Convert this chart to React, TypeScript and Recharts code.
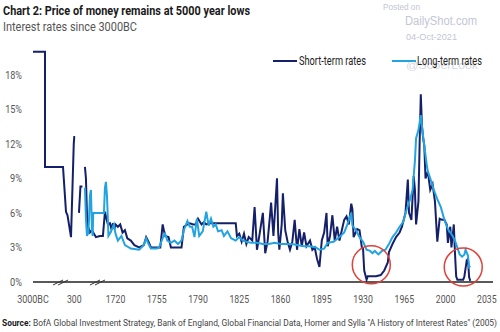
import { LineChart, Line, XAxis, YAxis, ReferenceDot } from 'recharts';

// broken x axis: 3000BC..300, 300..1720, then 35 years per tick
const xTickLabels = ['3000BC', '300', '1720', '1755', '1790', '1825', '1860', '1895', '1930', '1965', '2000', '2035'];
const yTicks = [0, 3, 6, 9, 12, 15, 18];

const shortYears = [
  -3000, -2040, -2040, -600, -360, -240, 40, 260, 300, 330, 400,
  462, 513, 582, 620,
  668, 702, 754, 806, 840, 909, 978, 1046, 1184, 1287, 1356, 1408, 1459, 1528, 1580, 1631, 1682,
  1720, 1722, 1724, 1726, 1728, 1730, 1733, 1736, 1740, 1744, 1746, 1748, 1750, 1755, 1758, 1760, 1762, 1765, 1767,
  1772, 1776, 1778, 1781, 1783, 1786, 1788, 1790, 1793, 1795, 1797, 1800, 1805, 1810, 1815, 1822, 1823,
  1825, 1827, 1829, 1831, 1833, 1836, 1838, 1840, 1842, 1845, 1847, 1849, 1851, 1852, 1854, 1857, 1858, 1859,
  1861, 1862, 1864, 1866, 1868, 1870, 1872, 1874, 1876, 1878, 1880, 1882, 1885, 1887, 1889, 1891, 1893, 1895,
  1897, 1899, 1900, 1902, 1904, 1906, 1908, 1910, 1912, 1914, 1916, 1918, 1920, 1921, 1922, 1925, 1927, 1929,
  1930, 1931, 1933, 1934, 1941, 1945, 1948, 1951, 1952, 1955, 1958, 1961, 1963, 1966, 1968, 1969, 1971, 1973,
  1974, 1975, 1977, 1978, 1979, 1980, 1981, 1982, 1983, 1985, 1987, 1989, 1991, 1993, 1995, 1997, 1999, 2001,
  2002, 2004, 2005, 2007, 2008, 2009, 2010, 2015, 2016, 2017, 2018, 2019, 2020, 2021,
];
const shortRates: (number | null)[] = [
  20, 20, 10, 10, 6.1, 5.8, 3.9, 12.0, 12.6, 12.6, null,
  6.0, 8.3, 8.3, null,
  10.0, 9.0, 4.5, 4.6, 4.3, 4.5, 4.2, 3.9, 4.0, 4.0, 6.1, 5.5, 5.0, 5.1, 4.6, 5.1, 4.6,
  5.0, 4.8, 5.0, 4.3, 4.5, 3.8, 3.6, 3.2, 3.0, 3.2, 3.9, 3.5, 3.0, 3.0, 3.0, 5.0, 4.0, 3.9, 3.0,
  3.0, 3.0, 4.8, 5.0, 5.1, 5.0, 5.0, 5.5, 5.0, 5.2, 5.0, 5.1, 5.1, 5.1, 5.1, 5.1, 4.0,
  4.2, 3.5, 4.2, 3.3, 3.9, 3.6, 6.5, 2.8, 4.0, 6.0, 2.5, 3.5, 5.7, 6.9, 4.0, 9.0, 4.3, 2.8,
  5.0, 7.7, 4.5, 3.5, 2.8, 3.5, 5.4, 2.8, 4.6, 3.1, 4.3, 3.1, 3.6, 2.8, 3.0, 2.0, 1.3, 3.6,
  4.3, 6.0, 3.1, 4.0, 5.8, 3.6, 4.8, 3.6, 4.5, 5.4, 5.7, 5.0, 6.8, 6.3, 3.9, 4.6, 4.5, 3.0,
  2.9, 1.0, 0.2, 0.5, 0.5, 0.6, 1.0, 1.7, 2.6, 3.3, 3.9, 4.3, 4.8, 6.0, 8.9, 6.0, 5.4, 9.2,
  8.0, 5.0, 7.0, 12.0, 16.3, 13.5, 12.5, 11.8, 9.0, 9.6, 8.0, 8.5, 7.0, 3.5, 5.5, 5.4, 5.4, 5.0,
  3.4, 4.8, 3.0, 5.0, 2.5, 0.5, 0.2, 0.2, 0.5, 1.2, 1.9, 2.0, 0.4, 0.1,
];

const longYears = [
  668, 702, 737, 789, 840, 874, 909, 933, 954, 1322, 1356, 1390, 1425, 1449, 1477, 1528, 1597, 1665,
  1720, 1722, 1725, 1728, 1733, 1740, 1744, 1746, 1748, 1750, 1755, 1757, 1760, 1762, 1764, 1767, 1770,
  1773, 1776, 1778, 1781, 1783, 1785, 1787, 1789, 1791, 1794, 1797, 1799, 1801, 1803, 1805, 1807, 1810,
  1812, 1815, 1818, 1822, 1825, 1828, 1831, 1835, 1840, 1845, 1850, 1855, 1860, 1865, 1870, 1875, 1880,
  1885, 1890, 1893, 1897, 1900, 1905, 1910, 1914, 1916, 1918, 1920, 1921, 1924, 1927, 1930, 1933, 1936,
  1938, 1940, 1943, 1946, 1949, 1952, 1955, 1958, 1961, 1964, 1967, 1970, 1972, 1974, 1975, 1977, 1979,
  1981, 1982, 1984, 1985, 1987, 1990, 1993, 1996, 1999, 2002, 2004, 2006, 2008, 2010, 2012, 2014, 2016,
  2017, 2019, 2020, 2021,
];
const longRates = [
  8.2, 5.5, 4.0, 4.3, 7.5, 8.0, 4.5, 4.0, 6.0, 6.0, 8.2, 8.7, 7.5, 6.0, 4.0, 4.2, 4.6, 5.0,
  4.2, 3.6, 4.0, 3.2, 2.9, 2.8, 3.2, 3.8, 3.3, 2.9, 2.9, 3.0, 3.8, 4.2, 3.6, 3.4, 3.6,
  3.3, 3.6, 4.5, 5.3, 4.8, 4.8, 3.9, 5.5, 4.0, 4.4, 6.1, 4.9, 5.5, 4.8, 5.0, 4.4, 4.5,
  4.0, 4.4, 3.8, 3.6, 3.9, 3.6, 3.5, 3.4, 3.4, 3.3, 3.3, 3.4, 3.3, 3.3, 3.3, 3.2, 3.1,
  3.1, 3.0, 2.8, 2.9, 3.4, 3.5, 3.9, 4.3, 4.8, 5.4, 6.0, 4.9, 4.5, 3.9, 3.5, 2.8, 2.7,
  2.5, 2.7, 2.4, 2.7, 2.8, 3.3, 3.9, 4.3, 4.8, 5.2, 6.3, 7.2, 8.0, 10.5, 12.5, 13.2, 14.5,
  12.6, 11.8, 10.2, 9.6, 9.0, 8.0, 7.2, 6.5, 5.4, 4.6, 4.3, 4.0, 3.6, 3.0, 2.4, 2.2, 2.4,
  2.8, 2.3, 1.3, 1.4,
];

const DARK = '#15206b';
const LIGHT = '#23a4e0';
const FONT = 'Roboto, sans-serif';

function toAxis(year: number) {
  if (year <= 300) return (year + 3000) / 3300;
  if (year <= 1720) return 1 + (year - 300) / 1420;
  return 2 + (year - 1720) / 35;
}

const shortData = shortYears.map((y, i) => ({ x: toAxis(y), rate: shortRates[i] }));
const longData = longYears.map((y, i) => ({ x: toAxis(y), rate: longRates[i] }));

// narrow font in the original: squeeze labels to their measured widths
function labelWidth(s: string) {
  let w = 0;
  for (const c of s) w += /[0-9]/.test(c) ? 4.9 : c === '%' ? 7 : 6;
  return w;
}

function XTick({ x, y, payload }: any) {
  const label = xTickLabels[payload.value] ?? '';
  return (
    <text x={x} y={y + 13} textAnchor="middle" fontSize={11} fill="#555" fontFamily={FONT}
      textLength={labelWidth(label)} lengthAdjust="spacingAndGlyphs">
      {label}
    </text>
  );
}

function YTick({ y, payload }: any) {
  const label = `${payload.value}%`;
  return (
    <text x={22} y={y} dy={4} textAnchor="end" fontSize={11} fill="#555" fontFamily={FONT}
      textLength={labelWidth(label)} lengthAdjust="spacingAndGlyphs">
      {label}
    </text>
  );
}

function BreakMark({ cx, cy }: any) {
  return (
    <g stroke="#333" strokeWidth={1}>
      <line x1={cx - 8} y1={cy + 3} x2={cx + 2} y2={cy - 2} />
      <line x1={cx - 3} y1={cy + 3} x2={cx + 7} y2={cy - 2} />
    </g>
  );
}

function Overlay() {
  const wm = { fill: '#c3c6d4', fontFamily: '"Liberation Sans", sans-serif' };
  return (
    <svg width={500} height={332} style={{ position: 'absolute', left: 0, top: 0, pointerEvents: 'none' }}>
      <text x={3} y={15} fontSize={13.5} fontWeight="bold" fill="#1a1a1a" fontFamily={FONT}
        textLength={247} lengthAdjust="spacingAndGlyphs">
        Chart 2: Price of money remains at 5000 year lows
      </text>
      <text x={3} y={31} fontSize={12.5} fill="#555" fontFamily={FONT} textLength={134} lengthAdjust="spacingAndGlyphs">
        Interest rates since 3000BC
      </text>
      <text x={383} y={10} fontSize={9} {...wm} textLength={37} lengthAdjust="spacingAndGlyphs">Posted on</text>
      <text x={405} y={25} fontSize={12.5} {...wm} textLength={72} lengthAdjust="spacingAndGlyphs">DailyShot.com</text>
      <text x={406} y={40} fontSize={9} {...wm} textLength={51} lengthAdjust="spacingAndGlyphs">04-Oct-2021</text>
      <text x={406} y={69} fontSize={11} fill="#d6d8e0" fontFamily={'"Liberation Sans", sans-serif'} textLength={72} lengthAdjust="spacingAndGlyphs">@SoberLook</text>
      {/* legend */}
      <line x1={273} y1={61} x2={297} y2={61} stroke={DARK} strokeWidth={2} />
      <text x={299} y={65} fontSize={12} fill="#222" fontFamily={FONT} textLength={67} lengthAdjust="spacingAndGlyphs">Short-term rates</text>
      <line x1={392} y1={61} x2={416} y2={61} stroke={LIGHT} strokeWidth={2} />
      <text x={417} y={65} fontSize={12} fill="#222" fontFamily={FONT} textLength={65} lengthAdjust="spacingAndGlyphs">Long-term rates</text>
      <text x={2} y={326} fontSize={8.6} fill="#444" fontFamily={FONT} textLength={495} lengthAdjust="spacingAndGlyphs">
        <tspan fontWeight="bold" fill="#1a1a1a">Source:</tspan>
        {'  BofA Global Investment Strategy, Bank of England, Global Financial Data, Homer and Sylla "A History of Interest Rates" (2005)'}
      </text>
    </svg>
  );
}

export default function App() {
  return (
    <div style={{ position: 'absolute', left: 0, top: 0, width: 500, height: 332, background: '#fff', overflow: 'hidden' }}>
      <LineChart width={500} height={332} margin={{ top: 46, right: 7, bottom: 20, left: 0 }}>
        <XAxis
          type="number"
          dataKey="x"
          domain={[0, 11.15]}
          ticks={xTickLabels.map((_, i) => i)}
          allowDataOverflow
          height={30}
          tickLine={false}
          axisLine={{ stroke: '#222', strokeWidth: 1.4 }}
          tick={<XTick />}
        />
        <YAxis
          type="number"
          domain={[0, 20.5]}
          ticks={yTicks}
          allowDataOverflow
          width={33}
          axisLine={false}
          tickLine={false}
          tick={<YTick />}
        />
        <Line
          data={shortData}
          dataKey="rate"
          name="Short-term rates"
          stroke={DARK}
          strokeWidth={2}
          dot={false}
          type="linear"
          isAnimationActive={false}
        />
        <Line
          data={longData}
          dataKey="rate"
          name="Long-term rates"
          stroke={LIGHT}
          strokeWidth={2}
          dot={false}
          type="linear"
          isAnimationActive={false}
        />
        <ReferenceDot x={0.68} y={0} r={0} shape={<BreakMark />} ifOverflow="visible" />
        <ReferenceDot x={1.575} y={0} r={0} shape={<BreakMark />} ifOverflow="visible" />
        <ReferenceDot x={toAxis(1937)} y={1.5} r={19} fill="none" stroke="#e0403a" strokeWidth={1.5} ifOverflow="visible" />
        <ReferenceDot x={toAxis(2015)} y={1.3} r={19} fill="none" stroke="#e0403a" strokeWidth={1.5} ifOverflow="visible" />
      </LineChart>
      <Overlay />
    </div>
  );
}
